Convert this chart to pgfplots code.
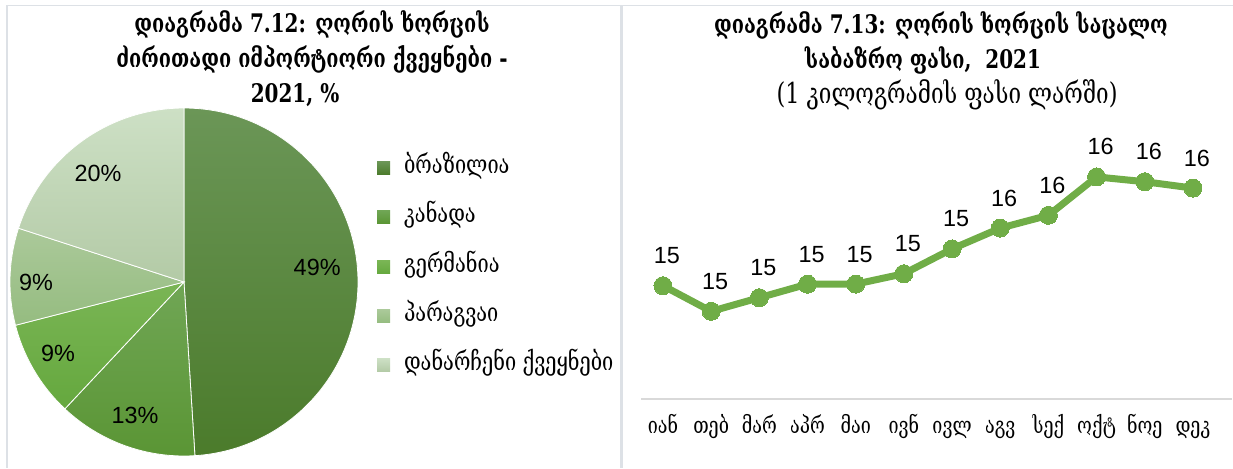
\documentclass[border=0pt]{standalone}
\usepackage{pgfplots}
\pgfplotsset{compat=1.18}
\usepackage{fontspec}
\setmainfont{Liberation Sans}
\newfontfamily\geo[FakeStretch=0.78]{DejaVu Serif}
\newfontfamily\arial{Liberation Sans}

\definecolor{lineg}{HTML}{70AD47}
\definecolor{frame}{HTML}{DDE1E6}
\definecolor{axgray}{HTML}{D9D9D9}
\definecolor{braT}{HTML}{6B9657}\definecolor{braB}{HTML}{4B7B2B}
\definecolor{canT}{HTML}{70A655}\definecolor{canB}{HTML}{5A9534}
\definecolor{gerT}{HTML}{7AB555}\definecolor{gerB}{HTML}{65A83E}
\definecolor{parT}{HTML}{ABC99A}\definecolor{parB}{HTML}{95BC80}
\definecolor{othT}{HTML}{CDE0C5}\definecolor{othB}{HTML}{B3CAA6}

% pie slice: start %, end %, top colour, bottom colour
\newcommand{\slice}[4]{%
  \shadedraw[top color=#3, bottom color=#4, draw=white, line width=0.4pt]
    (axis cs:0,0) -- +({90-3.6*#1}:87pt)
    arc[start angle={90-3.6*#1}, end angle={90-3.6*#2}, radius=87pt] -- cycle;}
% legend square at centre y
\newcommand{\legsq}[3]{%
  \shade[top color=#2, bottom color=#3] (188.5pt,{#1+3.25pt}) rectangle (195pt,{#1-3.25pt});}

\begin{document}
\begin{tikzpicture}
\useasboundingbox (0,0) rectangle (616.5pt,-234pt);

% panel frames
\draw[frame, line width=0.5pt] (3pt,-2.5pt) -- (616.5pt,-2.5pt);
\draw[frame, line width=1pt] (3.5pt,-2.5pt) -- (3.5pt,-234pt);
\draw[frame, line width=1.5pt] (310.75pt,-2.5pt) -- (310.75pt,-234pt);

% titles
\begin{scope}[every node/.style={font=\geo\bfseries\fontsize{12.8}{15}\selectfont, anchor=mid}]
\node at (156pt,-13.5pt) {დიაგრამა 7.12: ღორის ხორცის};
\node at (156pt,-31pt) {ძირითადი იმპორტიორი ქვეყნები -};
\node at (147.5pt,-48.5pt) {2021, \%};
\node at (470.5pt,-14pt) {დიაგრამა 7.13: ღორის ხორცის საცალო};
\node at (461.5pt,-31.5pt) {საბაზრო ფასი,\ \ 2021};
\end{scope}
\node[font=\geo\fontsize{14.4}{17}\selectfont, anchor=mid] at (473.5pt,-49pt) {(1 კილოგრამის ფასი ლარში)};

% pie: shares 49, 13, 9, 9, 20
\begin{axis}[at={(92pt,-141pt)}, anchor=center, width=174pt, height=174pt,
  scale only axis, xmin=-1, xmax=1, ymin=-1, ymax=1, hide axis, clip=false]
\slice{0}{49}{braT}{braB}
\slice{49}{62}{canT}{canB}
\slice{62}{71}{gerT}{gerB}
\slice{71}{80}{parT}{parB}
\slice{80}{100}{othT}{othB}
\begin{scope}[every node/.style={font=\arial\fontsize{11.7}{14}\selectfont}]
\path (axis cs:0,0) ++(6.4:67pt) node {49\%};
\path (axis cs:0,0) ++(-110.2:70.9pt) node {13\%};
\path (axis cs:0,0) ++(-150.6:72.3pt) node {9\%};
\path (axis cs:0,0) ++(180:74pt) node {9\%};
\path (axis cs:0,0) ++(128.3:69.4pt) node {20\%};
\end{scope}
\end{axis}

% legend
\begin{scope}[every node/.style={font=\geo\fontsize{12.8}{15}\selectfont, anchor=mid west}]
\legsq{-84pt}{braT}{braB}
\node at (198.5pt,-84pt) {ბრაზილია};
\legsq{-108.5pt}{canT}{canB}
\node at (198.5pt,-108.5pt) {კანადა};
\legsq{-133.5pt}{gerT}{gerB}
\node at (198.5pt,-133.5pt) {გერმანია};
\legsq{-158pt}{parT}{parB}
\node at (198.5pt,-158pt) {პარაგვაი};
\legsq{-182.5pt}{othT}{othB}
\node at (198.5pt,-182.5pt) {დანარჩენი ქვეყნები};
\end{scope}

% line chart
\begin{axis}[at={(320.65pt,-199.25pt)}, anchor=south west,
  width=295.1pt, height=120pt, scale only axis,
  xmin=0.55, xmax=12.8, ymin=13.5, ymax=16.5,
  axis x line=bottom, axis y line=none,
  axis line style={-, draw=axgray, line width=1pt},
  xtick={1,...,12}, ytick=\empty, major tick length=0pt,
  xticklabels={იან,თებ,მარ,აპრ,მაი,ივნ,ივლ,აგვ,სექ,ოქტ,ნოე,დეკ},
  xticklabel style={font=\geo\fontsize{11.5}{14}\selectfont, anchor=mid, yshift=-15pt},
  clip=false,
  /pgf/number format/fixed, /pgf/number format/precision=0,
  /pgf/number format/assume math mode=true,
  nodes near coords,
  every node near coord/.style={font=\arial\fontsize{11.7}{14}\selectfont,
    anchor=center, yshift=15pt, xshift=2pt, black}]
\addplot[lineg, line width=3.5pt, mark=*, mark size=4.5pt,
  mark options={line width=0pt, fill=lineg}]
  coordinates {(1,14.91)(2,14.59)(3,14.76)(4,14.93)(5,14.93)(6,15.06)
               (7,15.37)(8,15.63)(9,15.79)(10,16.27)(11,16.21)(12,16.13)};
\end{axis}
\end{tikzpicture}
\end{document}
